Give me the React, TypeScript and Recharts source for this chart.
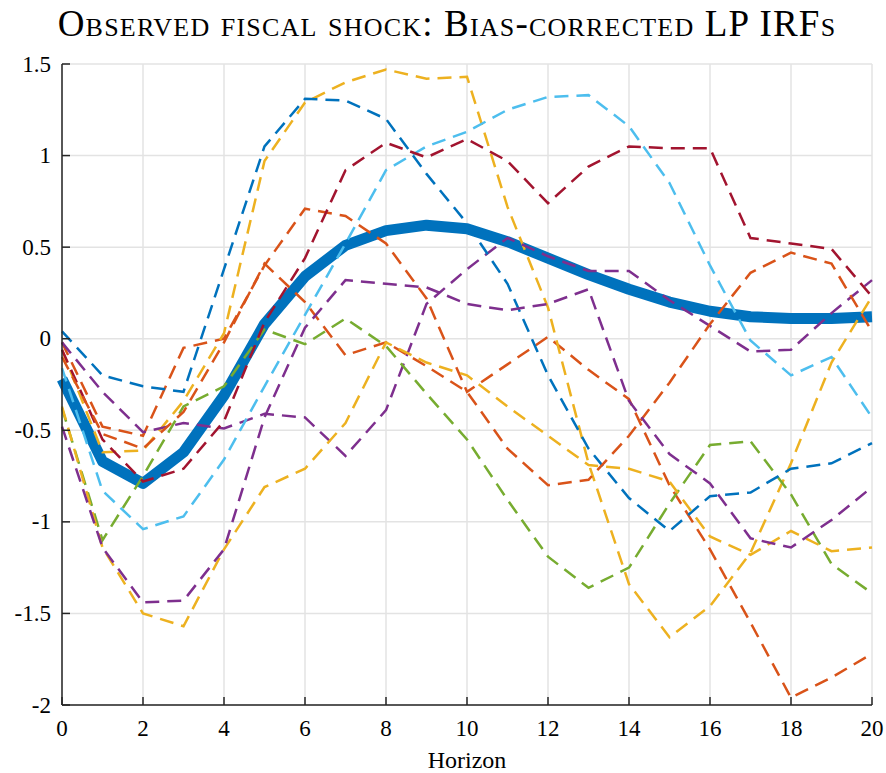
import { LineChart, Line, XAxis, YAxis, CartesianGrid } from 'recharts';

// horizons 0..20
const horizons = [0, 1, 2, 3, 4, 5, 6, 7, 8, 9, 10, 11, 12, 13, 14, 15, 16, 17, 18, 19, 20];
const xTicks = [0, 2, 4, 6, 8, 10, 12, 14, 16, 18, 20];
const yTicks = [-2, -1.5, -1, -0.5, 0, 0.5, 1, 1.5];

// mean bias-corrected LP IRF (thick line)
const meanIrf = [-0.22, -0.67, -0.79, -0.62, -0.31, 0.08, 0.34, 0.51, 0.59, 0.62, 0.6, 0.53, 0.44, 0.35, 0.27, 0.2, 0.15, 0.12, 0.11, 0.11, 0.12];

// individual IRFs (dashed)
const irfOrangeA = [-0.02, -0.48, -0.53, -0.05, 0.0, 0.4, 0.71, 0.67, 0.52, 0.22, -0.29, -0.14, 0.01, -0.17, -0.33, -0.8, -1.15, -1.55, -1.96, -1.85, -1.72];
const irfYellowA = [-0.06, -0.62, -0.61, -0.34, 0.03, 0.97, 1.29, 1.4, 1.47, 1.42, 1.43, 0.72, 0.17, -0.68, -1.34, -1.63, -1.46, -1.17, -0.68, -0.13, 0.23];
const irfPurpleA = [-0.02, -0.29, -0.51, -0.46, -0.49, -0.41, -0.43, -0.64, -0.39, 0.19, 0.38, 0.55, 0.45, 0.37, 0.37, 0.21, 0.07, -0.07, -0.06, 0.14, 0.32];
const irfGreen = [-0.38, -1.1, -0.75, -0.37, -0.26, 0.05, -0.03, 0.11, -0.04, -0.3, -0.55, -0.88, -1.19, -1.36, -1.25, -0.9, -0.58, -0.56, -0.85, -1.23, -1.39];
const irfLightBlue = [-0.16, -0.83, -1.04, -0.97, -0.66, -0.26, 0.13, 0.52, 0.92, 1.05, 1.13, 1.25, 1.32, 1.33, 1.16, 0.85, 0.4, -0.01, -0.2, -0.1, -0.43];
const irfDarkRed = [-0.06, -0.55, -0.78, -0.71, -0.45, 0.09, 0.44, 0.92, 1.07, 0.99, 1.09, 0.97, 0.74, 0.94, 1.05, 1.04, 1.04, 0.55, 0.52, 0.49, 0.23];
const irfBlue = [0.04, -0.2, -0.26, -0.29, 0.38, 1.05, 1.31, 1.3, 1.2, 0.9, 0.63, 0.3, -0.2, -0.6, -0.87, -1.05, -0.86, -0.84, -0.71, -0.68, -0.57];
const irfOrangeB = [-0.1, -0.52, -0.6, -0.4, -0.02, 0.41, 0.2, -0.09, -0.02, -0.15, -0.29, -0.6, -0.8, -0.77, -0.53, -0.24, 0.08, 0.36, 0.47, 0.41, 0.04];
const irfYellowB = [-0.37, -1.14, -1.5, -1.57, -1.15, -0.81, -0.71, -0.46, -0.02, -0.13, -0.2, -0.37, -0.53, -0.69, -0.71, -0.78, -1.08, -1.18, -1.05, -1.16, -1.14];
const irfPurpleB = [-0.48, -1.14, -1.44, -1.43, -1.15, -0.43, 0.06, 0.32, 0.3, 0.28, 0.19, 0.155, 0.19, 0.27, -0.34, -0.63, -0.79, -1.09, -1.14, -0.99, -0.81];

const dashed = [
  { key: 'oA', values: irfOrangeA, color: '#D95319' },
  { key: 'yA', values: irfYellowA, color: '#EDB120' },
  { key: 'pA', values: irfPurpleA, color: '#7E2F8E' },
  { key: 'g', values: irfGreen, color: '#77AC30' },
  { key: 'lb', values: irfLightBlue, color: '#4DBEEE' },
  { key: 'dr', values: irfDarkRed, color: '#A2142F' },
  { key: 'b', values: irfBlue, color: '#0072BD' },
  { key: 'oB', values: irfOrangeB, color: '#D95319' },
  { key: 'yB', values: irfYellowB, color: '#EDB120' },
  { key: 'pB', values: irfPurpleB, color: '#7E2F8E' },
];

const data = horizons.map((h, i) => {
  const row: Record<string, number> = { h, mean: meanIrf[i] };
  dashed.forEach((s) => { row[s.key] = s.values[i]; });
  return row;
});

const FONT = '"Liberation Serif", "DejaVu Serif", serif';
const AXIS_COLOR = '#262626';
const LEFT = 62;
const BOTTOM = 705;

// MATLAB style: ticks point inward, labels outside
const YTick = ({ y, payload }: any) => (
  <g>
    <line x1={LEFT} x2={LEFT + 8} y1={y} y2={y} stroke={AXIS_COLOR} strokeWidth={1.5} />
    <text x={LEFT - 11} y={y} textAnchor="end" dominantBaseline="central" fontFamily={FONT} fontSize={23} fill="#000">
      {String(payload.value)}
    </text>
  </g>
);

const XTick = ({ x, payload }: any) => (
  <g>
    <line x1={x} x2={x} y1={BOTTOM} y2={BOTTOM - 8} stroke={AXIS_COLOR} strokeWidth={1.5} />
    <text x={x} y={BOTTOM + 31} textAnchor="middle" fontFamily={FONT} fontSize={23} fill="#000">
      {String(payload.value)}
    </text>
  </g>
);

export default function App() {
  return (
    <div style={{ position: 'absolute', left: 0, top: 0, width: 886, height: 773, background: '#fff' }}>
      <div
        style={{
          position: 'absolute',
          left: 47,
          top: 4,
          width: 800,
          textAlign: 'center',
          fontFamily: FONT,
          fontVariant: 'small-caps',
          fontSize: 37,
          letterSpacing: 1.2,
          lineHeight: '40px',
          color: '#000',
          whiteSpace: 'nowrap',
        }}
      >
        Observed fiscal shock: Bias-corrected LP IRFs
      </div>
      <LineChart width={886} height={773} data={data} margin={{ top: 64, right: 14, bottom: 0, left: 0 }}>
        <CartesianGrid stroke="#e3e3e3" strokeWidth={1.5} />
        <XAxis
          dataKey="h"
          type="number"
          domain={[0, 20]}
          ticks={xTicks}
          height={68}
          tickSize={0}
          tick={<XTick />}
          axisLine={{ stroke: AXIS_COLOR, strokeWidth: 1.5 }}
          tickLine={false}
          label={{ value: 'Horizon', position: 'insideBottom', offset: 5, fontFamily: FONT, fontSize: 24, fill: '#000' }}
        />
        <YAxis
          type="number"
          domain={[-2, 1.5]}
          ticks={yTicks}
          width={62}
          tickSize={0}
          tick={<YTick />}
          axisLine={{ stroke: AXIS_COLOR, strokeWidth: 1.5 }}
          tickLine={false}
          allowDataOverflow
        />
        <Line
          type="linear"
          dataKey="mean"
          stroke="#0072BD"
          strokeWidth={11}
          strokeLinejoin="round"
          dot={false}
          isAnimationActive={false}
        />
        {dashed.map((s) => (
          <Line
            key={s.key}
            type="linear"
            dataKey={s.key}
            stroke={s.color}
            strokeWidth={2.5}
            strokeDasharray="14 8"
            dot={false}
            isAnimationActive={false}
          />
        ))}
      </LineChart>
    </div>
  );
}
